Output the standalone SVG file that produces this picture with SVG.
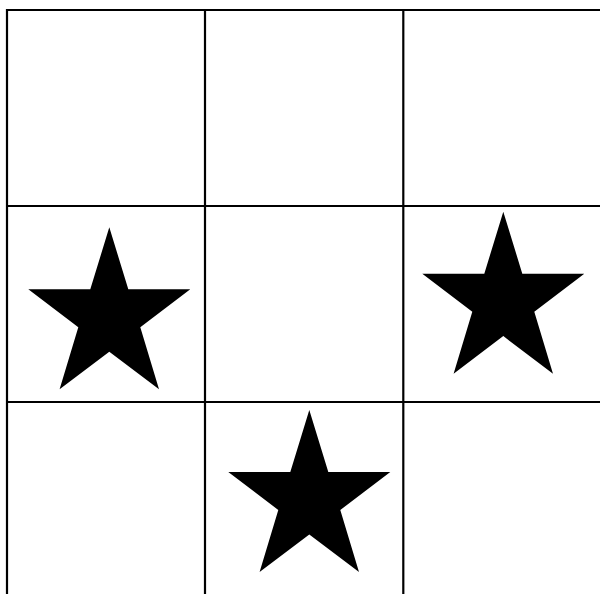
<svg xmlns="http://www.w3.org/2000/svg" width="600" height="594" viewBox="0 0 600 594">
<defs>
<style>
.grid line{stroke:#000;stroke-width:2.2;fill:none}
.star{fill:#000}
</style>
<path id="star" d="M0,0 L19,62 L81,62 L31,100 L49.7,162 L0,124.4 L-49.7,162 L-31,100 L-81,62 L-19,62 Z"/>
</defs>
<rect width="600" height="594" fill="#fff"/>
<g class="grid" id="grid">
<line x1="7" y1="9" x2="7" y2="594"/>
<line x1="205" y1="9" x2="205" y2="594"/>
<line x1="403.3" y1="9" x2="403.3" y2="594"/>
<line x1="6" y1="10" x2="600" y2="10"/>
<line x1="6" y1="206" x2="600" y2="206"/>
<line x1="6" y1="402" x2="600" y2="402"/>
</g>
<g id="star1"><use href="#star" class="star" x="109.3" y="227.3"/></g>
<g id="star2"><use href="#star" class="star" x="503.3" y="211.7"/></g>
<g id="star3"><use href="#star" class="star" x="309.3" y="410"/></g>
</svg>
